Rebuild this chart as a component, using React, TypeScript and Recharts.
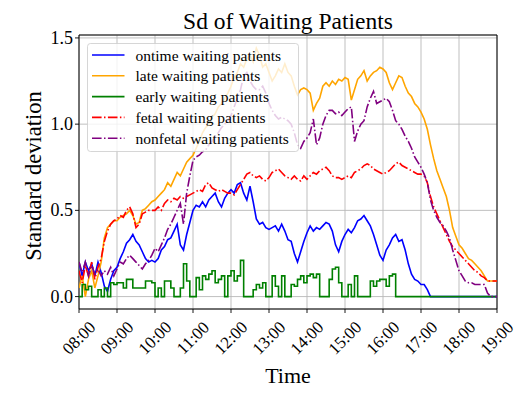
import React from 'react';
import { LineChart, Line, XAxis, YAxis, CartesianGrid, ReferenceArea } from 'recharts';

// minutes after 08:00, sampled every 5 minutes
const minutes: number[] = Array.from({ length: 133 }, (_, i) => i * 5);
const hourTicks = [0, 60, 120, 180, 240, 300, 360, 420, 480, 540, 600, 660];
const hourLabels = ['08:00', '09:00', '10:00', '11:00', '12:00', '13:00', '14:00', '15:00', '16:00', '17:00', '18:00', '19:00'];
const yTicks = [0, 0.5, 1.0, 1.5];

const ontime = [
  0.2, 0.12, 0.2, 0.15, 0.19, 0.12, 0.2, 0.14, 0.06, 0.03, 0.1, 0.15,
  0.17, 0.22, 0.26, 0.31, 0.33, 0.36, 0.32, 0.3, 0.26, 0.22, 0.2, 0.21,
  0.2, 0.22, 0.27, 0.29, 0.33, 0.34, 0.38, 0.42, 0.3, 0.27, 0.36, 0.43,
  0.5, 0.53, 0.52, 0.55, 0.52, 0.56, 0.58, 0.6, 0.55, 0.52, 0.57, 0.6,
  0.62, 0.6, 0.65, 0.66, 0.6, 0.56, 0.64, 0.55, 0.45, 0.42, 0.43, 0.4,
  0.39, 0.4, 0.41, 0.38, 0.42, 0.38, 0.33, 0.32, 0.25, 0.2, 0.26, 0.32,
  0.37, 0.41, 0.38, 0.4, 0.39, 0.41, 0.43, 0.42, 0.38, 0.3, 0.26, 0.32,
  0.36, 0.39, 0.37, 0.4, 0.44, 0.45, 0.47, 0.44, 0.41, 0.36, 0.3, 0.24,
  0.21, 0.27, 0.3, 0.34, 0.36, 0.32, 0.33, 0.27, 0.19, 0.13, 0.1, 0.09,
  0.07, 0.07, 0.04, 0, 0, 0, 0, 0, 0, 0, 0, 0,
  0, 0, 0, 0, 0, 0, 0, 0, 0, 0, 0, 0,
  0,
];

const late = [
  0.05, 0.12, 0.0, 0.1, 0.15, 0.05, 0.12, 0.2, 0.34, 0.4, 0.42, 0.44,
  0.44, 0.46, 0.47, 0.48, 0.5, 0.47, 0.42, 0.43, 0.5, 0.51, 0.53, 0.55,
  0.56, 0.58, 0.6, 0.62, 0.66, 0.64, 0.68, 0.72, 0.7, 0.74, 0.78, 0.8,
  0.82, 0.86, 0.9, 0.95, 0.98, 1.0, 1.04, 1.06, 1.1, 1.12, 1.15, 1.18,
  1.22, 1.27, 1.3, 1.35, 1.33, 1.38, 1.4, 1.36, 1.44, 1.4, 1.33, 1.35,
  1.3, 1.25, 1.28, 1.32, 1.3, 1.35, 1.3, 1.28, 1.22, 1.17, 1.2, 1.21,
  1.2, 1.18, 1.08, 1.12, 1.15, 1.22, 1.24, 1.22, 1.25, 1.23, 1.26, 1.25,
  1.27, 1.26, 1.14, 1.2, 1.26, 1.28, 1.31, 1.25, 1.28, 1.3, 1.31, 1.33,
  1.32, 1.3, 1.24, 1.2, 1.24, 1.28, 1.27, 1.22, 1.18, 1.16, 1.12, 1.1,
  1.07, 1.03, 0.97, 0.88, 0.8, 0.73, 0.68, 0.63, 0.58, 0.5, 0.4, 0.35,
  0.3, 0.28, 0.25, 0.22, 0.21, 0.19, 0.17, 0.15, 0.12, 0.09, 0.09, 0.09,
  0.09,
];

const early = [
  0, 0.07, 0.04, 0.06, 0, 0, 0.04, 0, 0.05, 0, 0.08, 0.07,
  0.08, 0.08, 0.05, 0.1, 0.1, 0.05, 0.05, 0.05, 0.05, 0.09, 0.09, 0.08,
  0, 0.05, 0, 0.09, 0.09, 0.05, 0, 0, 0.05, 0.19, 0.09, 0,
  0, 0.11, 0.04, 0.12, 0.1, 0.13, 0.15, 0.08, 0.1, 0.12, 0, 0.12,
  0.15, 0.09, 0.12, 0.21, 0, 0, 0, 0.04, 0.07, 0.05, 0.08, 0,
  0, 0.12, 0.06, 0, 0.12, 0, 0, 0.07, 0.06, 0.1, 0.12, 0.08,
  0.12, 0.13, 0.11, 0.13, 0, 0, 0, 0.1, 0.16, 0.17, 0.08, 0,
  0, 0.07, 0, 0.12, 0, 0, 0, 0, 0.09, 0.06, 0.09, 0.1,
  0.1, 0.06, 0.12, 0.13, 0, 0, 0, 0, 0, 0, 0, 0,
  0, 0, 0, 0, 0, 0, 0, 0, 0, 0, 0, 0,
  0, 0, 0, 0, 0, 0, 0, 0, 0, 0, 0, 0,
  0,
];

const fetal = [
  0.15, 0.08, 0.18, 0.12, 0.2, 0.1, 0.17, 0.22, 0.32, 0.38, 0.42, 0.44,
  0.45, 0.47, 0.46, 0.5, 0.52, 0.48, 0.4, 0.42, 0.48, 0.49, 0.5, 0.5,
  0.5, 0.52, 0.5, 0.54, 0.56, 0.55, 0.57, 0.56, 0.58, 0.57, 0.58, 0.59,
  0.6, 0.61, 0.62, 0.61, 0.65, 0.66, 0.63, 0.62, 0.61, 0.62, 0.61, 0.6,
  0.6, 0.59, 0.62, 0.65, 0.68, 0.71, 0.72, 0.7, 0.69, 0.7, 0.68, 0.67,
  0.69, 0.72, 0.73, 0.74, 0.72, 0.7, 0.69, 0.68, 0.7, 0.68, 0.67, 0.7,
  0.68, 0.7, 0.72, 0.71, 0.73, 0.74, 0.75, 0.73, 0.7, 0.69, 0.69, 0.68,
  0.69, 0.7, 0.69, 0.72, 0.73, 0.74, 0.76, 0.77, 0.76, 0.74, 0.73, 0.72,
  0.71, 0.72, 0.73, 0.75, 0.77, 0.78, 0.76, 0.75, 0.74, 0.73, 0.72, 0.71,
  0.71, 0.7, 0.66, 0.58, 0.52, 0.48, 0.44, 0.4, 0.36, 0.32, 0.29, 0.27,
  0.25, 0.23, 0.21, 0.19, 0.17, 0.15, 0.14, 0.12, 0.11, 0.09, 0.09, 0.09,
  0.09,
];

const nonfetal = [
  0.2, 0.14, 0.2, 0.12, 0.18, 0.13, 0.16, 0.12, 0.15, 0.13, 0.17, 0.12,
  0.16, 0.2, 0.19, 0.22, 0.24, 0.22, 0.2, 0.18, 0.16, 0.19, 0.21, 0.24,
  0.28, 0.26, 0.3, 0.34, 0.39, 0.42, 0.46, 0.5, 0.54, 0.42, 0.6, 0.7,
  0.79, 0.81, 0.82, 0.84, 0.85, 0.88, 0.9, 0.93, 0.95, 0.98, 1.0, 1.02,
  1.05, 1.1, 1.15, 1.2, 1.28, 1.3, 1.25, 1.22, 1.2, 1.2, 1.22, 1.18,
  1.12, 1.08, 1.05, 1.03, 1.04, 1.03, 1.02, 1.0, 0.95, 0.88, 0.86, 0.9,
  0.92, 0.95, 1.03, 0.88, 0.92, 1.0, 1.05, 1.08, 1.08, 1.06, 1.07, 1.05,
  1.07, 1.09, 1.1, 0.9, 0.96, 1.0, 1.02, 1.1, 1.15, 1.19, 1.12, 1.13,
  1.14, 1.15, 1.13, 1.08, 1.02, 1.0, 0.97, 0.93, 0.9, 0.86, 0.81, 0.78,
  0.75, 0.71, 0.66, 0.56, 0.5, 0.46, 0.43, 0.41, 0.38, 0.34, 0.27, 0.21,
  0.15, 0.12, 0.09, 0.08, 0.08, 0.07, 0.07, 0.07, 0.07, 0.02, 0, 0,
  0,
];

const seriesNames = [
  'ontime waiting patients',
  'late waiting patients',
  'early waiting patients',
  'fetal waiting patients',
  'nonfetal waiting patients',
];

const data = minutes.map((t, i) => ({
  t,
  ontime: ontime[i],
  late: late[i],
  early: early[i],
  fetal: fetal[i],
  nonfetal: nonfetal[i],
}));

const FONT = '"Liberation Serif", "DejaVu Serif", serif';
const DASHDOT = '9.6 2.4 1.5 2.4';

const legendItems = [
  { name: seriesNames[0], color: '#0000ff', dash: undefined },
  { name: seriesNames[1], color: '#ffa500', dash: undefined },
  { name: seriesNames[2], color: '#008000', dash: undefined },
  { name: seriesNames[3], color: '#ff0000', dash: DASHDOT },
  { name: seriesNames[4], color: '#800080', dash: DASHDOT },
];

// Legend overlay drawn above the chart so the lines show faintly through its translucent box
const LegendOverlay = () => {
  const left = 87.5;
  const top = 43.5;
  const w = 211;
  const rowH = 20.8;
  return (
    <svg width={531} height={399} style={{ position: 'absolute', left: 0, top: 0, zIndex: 10, pointerEvents: 'none' }}>
      <rect x={left} y={top} width={w} height={108} rx={3} ry={3} fill="#ffffff" fillOpacity={0.8} stroke="#cccccc" strokeOpacity={0.8} strokeWidth={1} />
      {legendItems.map((it, i) => {
        const cy = top + 11.5 + i * rowH;
        return (
          <g key={it.name}>
            <line x1={left + 4.5} x2={left + 37} y1={cy} y2={cy} stroke={it.color} strokeWidth={1.6} strokeDasharray={it.dash} />
            <text x={left + 48} y={cy} dominantBaseline="central" fontFamily={FONT} fontSize={15.5} fill="#000">
              {it.name}
            </text>
          </g>
        );
      })}
    </svg>
  );
};

const XTick = (props: any) => {
  const { x, y, payload } = props;
  const idx = hourTicks.indexOf(payload.value);
  const cy = y + 23;
  return (
    <text
      x={x}
      y={cy}
      textAnchor="middle"
      dominantBaseline="central"
      transform={`rotate(-45, ${x}, ${cy})`}
      fontFamily={FONT}
      fontSize={17}
      fill="#000"
    >
      {idx >= 0 ? hourLabels[idx] : ''}
    </text>
  );
};

const YTick = (props: any) => {
  const { x, y, payload } = props;
  return (
    <text x={x} y={y} textAnchor="end" dominantBaseline="central" fontFamily={FONT} fontSize={18} fill="#000">
      {Number(payload.value).toFixed(1)}
    </text>
  );
};

export default function App() {
  return (
    <div style={{ position: 'absolute', left: 0, top: 0, width: 531, height: 399, background: '#fff' }}>
      <LineChart width={531} height={399} data={data} margin={{ top: 35, right: 34, bottom: 0, left: 0 }}>
        <CartesianGrid stroke="#b8b8b8" strokeWidth={0.9} />
        <XAxis
          dataKey="t"
          type="number"
          domain={[0, 660]}
          ticks={hourTicks}
          allowDataOverflow
          height={90}
          axisLine={false}
          tickLine={{ stroke: '#000', strokeWidth: 0.9 }}
          tickSize={4}
          tick={<XTick />}
          interval={0}
          label={{
            content: (p: any) => {
              const vb = p.viewBox || {};
              return (
                <text x={vb.x + vb.width / 2} y={vb.y + 66} textAnchor="middle" dominantBaseline="central" fontFamily={FONT} fontSize={22} fill="#000">
                  Time
                </text>
              );
            },
          }}
        />
        <YAxis
          type="number"
          domain={[-0.072, 1.517]}
          ticks={yTicks}
          allowDataOverflow
          width={79}
          axisLine={false}
          tickLine={{ stroke: '#000', strokeWidth: 0.9 }}
          tickSize={4}
          tick={<YTick />}
          interval={0}
          label={{
            content: (p: any) => {
              const vb = p.viewBox || {};
              const cx = vb.x + 33;
              const cy = vb.y + vb.height / 2 + 4;
              return (
                <text x={cx} y={cy} textAnchor="middle" dominantBaseline="central" transform={`rotate(-90, ${cx}, ${cy})`} fontFamily={FONT} fontSize={22.5} fill="#000">
                  Standard deviation
                </text>
              );
            },
          }}
        />
        <Line dataKey="ontime" name={seriesNames[0]} stroke="#0000ff" strokeWidth={1.6} dot={false} isAnimationActive={false} type="linear" />
        <Line dataKey="late" name={seriesNames[1]} stroke="#ffa500" strokeWidth={1.6} dot={false} isAnimationActive={false} type="linear" />
        <Line dataKey="early" name={seriesNames[2]} stroke="#008000" strokeWidth={1.6} dot={false} isAnimationActive={false} type="stepAfter" />
        <Line dataKey="fetal" name={seriesNames[3]} stroke="#ff0000" strokeWidth={1.6} strokeDasharray={DASHDOT} dot={false} isAnimationActive={false} type="linear" />
        <Line dataKey="nonfetal" name={seriesNames[4]} stroke="#800080" strokeWidth={1.6} strokeDasharray={DASHDOT} dot={false} isAnimationActive={false} type="linear" />
        <ReferenceArea x1={0} x2={660} y1={-0.072} y2={1.517} fill="none" stroke="#000" strokeWidth={1} ifOverflow="visible" />
        <text x={288} y={21} textAnchor="middle" dominantBaseline="central" fontFamily={FONT} fontSize={23.5} fill="#000">
          Sd of Waiting Patients
        </text>
      </LineChart>
      <LegendOverlay />
    </div>
  );
}
